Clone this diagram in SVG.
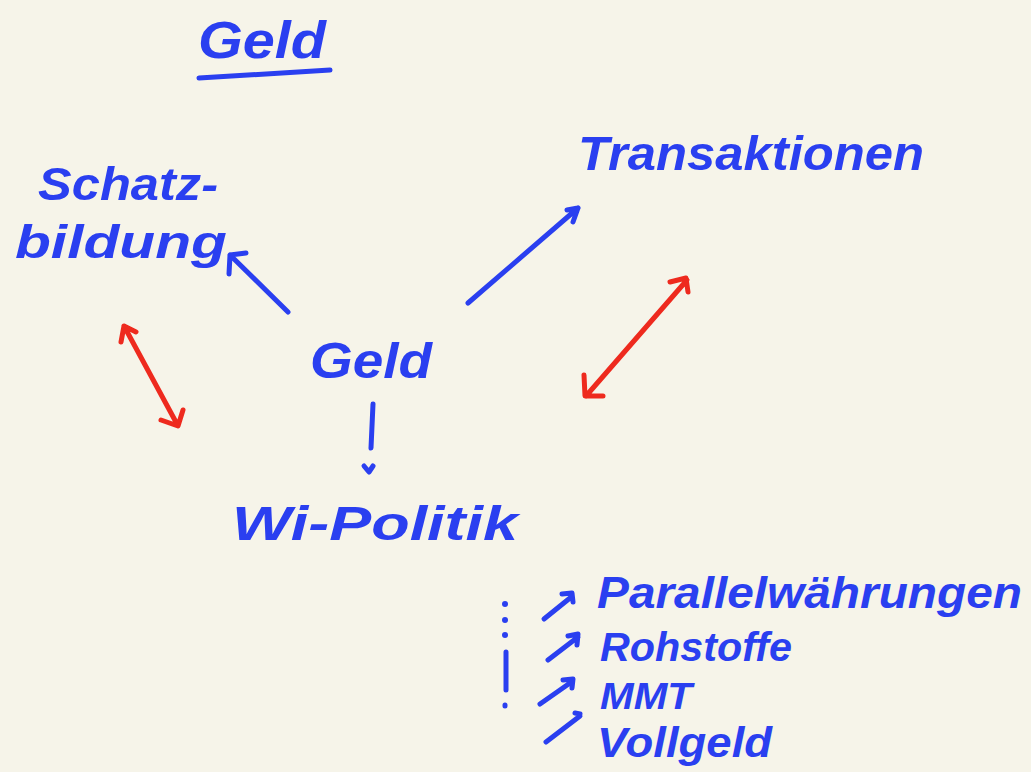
<svg xmlns="http://www.w3.org/2000/svg" width="1031" height="772" viewBox="0 0 1031 772">
<style>
.t{font-family:"Liberation Sans",Arial,sans-serif;font-weight:bold;font-style:italic;fill:#2a3ff0}
.b{stroke:#2a3ff0;stroke-width:5;fill:none;stroke-linecap:round;stroke-linejoin:round}
.r{stroke:#ee2a1e;stroke-width:5;fill:none;stroke-linecap:round;stroke-linejoin:round}
</style>
<rect width="1031" height="772" fill="#f6f4e9"/>
<g id="title">
<text class="t" x="198" y="58" font-size="52" textLength="128" lengthAdjust="spacingAndGlyphs">Geld</text>
<path class="b" d="M199 78 L330 70" stroke-width="7"/>
</g>
<g id="schatzbildung">
<text class="t" x="38" y="200" font-size="46" textLength="180" lengthAdjust="spacingAndGlyphs">Schatz-</text>
<text class="t" x="15" y="258" font-size="46" textLength="212" lengthAdjust="spacingAndGlyphs">bildung</text>
</g>
<g id="transaktionen">
<text class="t" x="578" y="170" font-size="48" textLength="346" lengthAdjust="spacingAndGlyphs">Transaktionen</text>
</g>
<g id="geld">
<text class="t" x="310" y="378" font-size="50" textLength="122" lengthAdjust="spacingAndGlyphs">Geld</text>
</g>
<g id="wipolitik">
<text class="t" x="232" y="540" font-size="48" textLength="286" lengthAdjust="spacingAndGlyphs">Wi-Politik</text>
</g>
<g id="parallel">
<text class="t" x="597" y="608" font-size="44" textLength="425" lengthAdjust="spacingAndGlyphs">Parallelwährungen</text>
</g>
<g id="rohstoffe">
<text class="t" x="600" y="661" font-size="40" textLength="192" lengthAdjust="spacingAndGlyphs">Rohstoffe</text>
</g>
<g id="mmt">
<text class="t" x="600" y="709" font-size="37" textLength="92" lengthAdjust="spacingAndGlyphs">MMT</text>
</g>
<g id="vollgeld">
<text class="t" x="597" y="757" font-size="43" textLength="175" lengthAdjust="spacingAndGlyphs">Vollgeld</text>
</g>
<g id="connectors">
<path class="b" d="M288 312 L230 255 M229 274 L230 255 L246 253"/>
<path class="b" d="M468 303 L578 208 M567 210 L578 208 L573 222"/>
<path class="b" d="M373 404 L371 448 M364 466 L369 472 L373 466"/>
<path class="r" d="M124 326 L177 424 M121 342 L124 326 L136 332 M161 420 L178 426 L183 410"/>
<path class="r" d="M687 280 L586 396 M670 282 L686 278 L688 292 M584 375 L585 396 L603 396"/>
<g fill="#2a3ff0">
<circle cx="505" cy="604" r="3"/><circle cx="505" cy="620" r="3"/><circle cx="505" cy="635" r="3"/>
</g>
<path class="b" d="M506 652 L506 690 M505 705 L505 706"/>
<path class="b" d="M544 619 L570 598 M562 594 L572 593 L573 602"/>
<path class="b" d="M548 660 L578 637 M568 636 L578 634 L577 645"/>
<path class="b" d="M540 704 L570 683 M563 680 L573 679 L572 688"/>
<path class="b" d="M546 742 L580 716 M575 713 L580 714"/>
</g>
</svg>
